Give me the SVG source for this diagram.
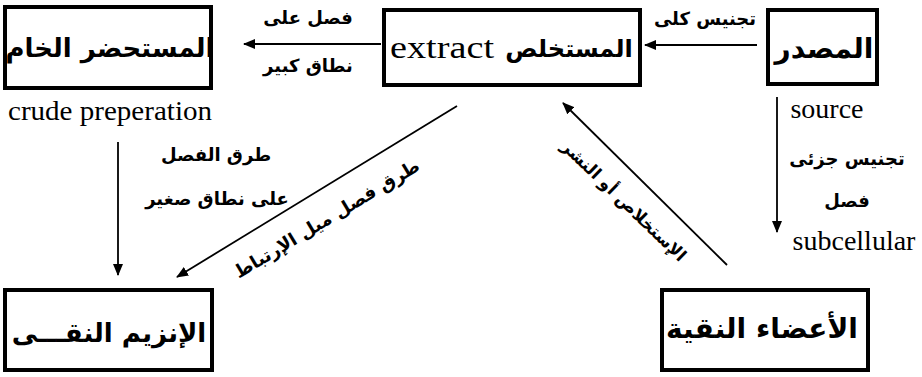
<svg xmlns="http://www.w3.org/2000/svg" width="922" height="377" viewBox="0 0 922 377">
<defs>
<style>
.box{fill:#fff;stroke:#000;stroke-width:4}
.ar{font-family:"DejaVu Sans","Noto Sans",sans-serif;font-weight:bold;fill:#000}
.big{font-size:26px}
.lbl{font-size:18px}
.en{font-family:"Liberation Serif","Times New Roman",serif;fill:#000}
.con{stroke:#000;stroke-width:1.8;fill:none}
</style>
<marker id="ah" viewBox="0 0 12 10" refX="11" refY="5" markerWidth="12" markerHeight="10" markerUnits="userSpaceOnUse" orient="auto">
<path d="M0,0 L12,5 L0,10 z" fill="#000"/>
</marker>
</defs>
<rect width="922" height="377" fill="#fff"/>

<g id="crude">
<rect class="box" x="5" y="7" width="206" height="81"/>
<text class="ar big" x="110" y="57" text-anchor="middle">المستحضر  الخام</text>
<text class="en" x="8" y="120" font-size="28" textLength="204" lengthAdjust="spacingAndGlyphs">crude preperation</text>
</g>

<g id="extract">
<rect class="box" x="384" y="10" width="256" height="75"/>
<text class="en" x="390" y="58" font-size="32" textLength="104" lengthAdjust="spacingAndGlyphs">extract</text>
<text class="ar" x="569" y="57" font-size="24" text-anchor="middle">المستخلص</text>
</g>

<g id="source">
<rect class="box" x="768" y="10" width="109" height="74"/>
<text class="ar" x="824" y="58" font-size="28" text-anchor="middle">المصدر</text>
<text class="en" x="827" y="118" font-size="28" text-anchor="middle">source</text>
</g>

<g id="organelles">
<rect class="box" x="662" y="290" width="206" height="80"/>
<text class="ar" x="762" y="338" font-size="28" text-anchor="middle">الأعضاء النقية</text>
</g>

<g id="enzyme">
<rect class="box" x="5" y="290" width="207" height="80"/>
<text class="ar big" x="109" y="342" text-anchor="middle">الإنزيم النقـــى</text>
</g>

<g id="connectors">
<line class="con" x1="381" y1="44" x2="244" y2="44" marker-end="url(#ah)"/>
<line class="con" x1="757" y1="45" x2="645" y2="45" marker-end="url(#ah)"/>
<line class="con" x1="777" y1="97" x2="777" y2="232" marker-end="url(#ah)"/>
<line class="con" x1="118" y1="142" x2="118" y2="275" marker-end="url(#ah)"/>
<line class="con" x1="457" y1="106" x2="177" y2="277" marker-end="url(#ah)"/>
<line class="con" x1="727" y1="265" x2="563" y2="103" marker-end="url(#ah)"/>
</g>

<g id="labels">
<text class="ar lbl" x="308" y="24" text-anchor="middle">فصل على</text>
<text class="ar lbl" x="308" y="72" text-anchor="middle">نطاق كبير</text>
<text class="ar lbl" x="705" y="25" text-anchor="middle">تجنيس كلى</text>
<text class="ar lbl" x="847" y="165" text-anchor="middle">تجنيس جزئى</text>
<text class="ar lbl" x="847" y="207" text-anchor="middle">فصل</text>
<text class="en" x="854" y="250" font-size="28" text-anchor="middle">subcellular</text>
<text class="ar lbl" x="216" y="161" text-anchor="middle">طرق الفصل</text>
<text class="ar lbl" x="217" y="205" text-anchor="middle">على نطاق صغير</text>
<text class="ar lbl" x="0" y="0" text-anchor="middle" transform="translate(330,224) rotate(-31)">طرق فصل ميل الإرتباط</text>
<text class="ar" x="0" y="0" font-size="17" text-anchor="middle" transform="translate(620,205) rotate(44)">الإستخلاص أو النشر</text>
</g>
</svg>
